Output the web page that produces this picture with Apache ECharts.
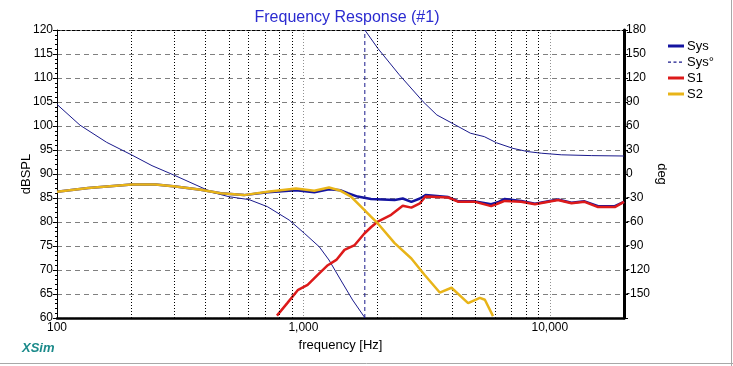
<!DOCTYPE html>
<html><head><meta charset="utf-8">
<script src="https://cdn.jsdelivr.net/npm/echarts@6/dist/echarts.min.js"></script>
<style>html,body{margin:0;padding:0;background:#fff}#c{width:733px;height:366px}</style>
</head><body><div id="c"></div>
<script>
// ---- data ----
var freqSys = [100,134,201,251,303,383,461,574,715,933,1107,1270,1417,1513,1660,1880,2345,2530,2742,2970,3130,3870,4260,4980,5780,6200,6560,7650,8700,10800,12240,13840,15700,18350,20000];
var splSys  = [86.3,87.1,87.8,87.8,87.4,86.7,86.0,85.6,86.2,86.6,86.2,86.8,86.6,86.0,85.3,84.8,84.6,84.9,84.2,84.9,85.6,85.2,84.3,84.3,83.7,84.2,84.8,84.4,83.8,84.7,84.0,84.3,83.3,83.3,84.2];

var freqS1 = [781,860,948,1040,1143,1256,1360,1468,1615,1768,1880,2005,2270,2530,2742,2970,3130,3870,4260,4980,5780,6200,6560,7650,8700,10800,12240,13840,15700,18350,20000];
var splS1  = [60.5,63.1,65.8,66.9,69.0,71.0,72.1,74.2,75.2,77.6,78.9,80.1,81.5,83.4,83.0,83.9,85.3,85.1,84.2,84.2,83.3,83.9,84.4,84.2,83.7,84.6,83.9,84.2,83.1,83.1,84.2];

var freqS2 = [100,134,201,251,303,383,461,574,715,933,1107,1270,1417,1560,1713,1880,2005,2345,2742,3100,3575,3990,4660,5200,5450,5880];
var splS2  = [86.3,87.1,87.8,87.8,87.4,86.7,86.0,85.6,86.3,87.0,86.5,87.2,86.5,85.3,83.2,81.1,79.7,75.6,72.4,69.0,65.3,66.3,63.1,64.2,63.8,60.4];

var freqPhaseA = [100,124,159,201,243,298,400,426,499,602,715,875,1008,1160,1270,1417,1584,1760,1775];
var phaseA     = [87,61,39.6,23.8,10.4,-1.3,-19,-22.9,-28.4,-32,-40.9,-57.5,-74,-91,-107.5,-132.5,-157.5,-178,-180];
var freqPhaseB = [1775,1790,2005,2450,3060,3480,4070,4760,5420,6080,7090,8140,9230,11130,14730,20000];
var phaseB     = [180,178.7,157,124,90.4,73.8,62.5,51,46.7,39,32,28,26,24,23,22.5];
var wrapFreq = 1775;

var gridFreqs = [200,300,400,500,600,700,800,900,2000,3000,4000,5000,6000,7000,8000,9000];
var dbTicks = {min:60, max:120, step:5};
var degTicks = {min:-180, max:180, step:30};

function zip(a,b){return a.map(function(v,i){return [v,b[i]];});}
var phaseData = zip(freqPhaseA,phaseA).concat([[wrapFreq,'-']]).concat(zip(freqPhaseB,phaseB));

var FONT = 'Liberation Sans, Arial, sans-serif';
var ICON_SOLID = 'path://M0,0 M16,14 M0,5.5 L16,5.5 L16,8.5 L0,8.5 Z';
var ICON_DASH = 'path://M0,0 M16,14 M0,6.5h3v1.2h-3z M5.5,6.5h3v1.2h-3z M11,6.5h3v1.2h-3z';
var chart = echarts.init(document.getElementById('c'));
chart.setOption({
  animation:false,
  backgroundColor:'#fff',
  title:{text:'Frequency Response (#1)', left:342, textAlign:'center', top:5,
    textStyle:{color:'#2b2bd0', fontSize:16, fontWeight:'normal', fontFamily:FONT}},
  legend:{orient:'vertical', left:668, top:39, itemWidth:16, itemHeight:14, itemGap:2, padding:0,
    textStyle:{fontSize:13, fontFamily:FONT, color:'#000', padding:[0,0,0,-2]},
    data:[{name:'Sys', icon:ICON_SOLID},{name:'Sys°', icon:ICON_DASH},{name:'S1', icon:ICON_SOLID},{name:'S2', icon:ICON_SOLID}]},
  grid:{left:57, right:109, top:30, bottom:48},
  xAxis:[{type:'log', logBase:10, min:100, max:20000,
    name:'frequency [Hz]', nameLocation:'middle', nameGap:21,
    nameTextStyle:{fontSize:13, fontFamily:FONT, color:'#000'},
    axisLine:{show:true, onZero:false, lineStyle:{color:'#000', width:2.5, type:[5,1]}},
    axisTick:{show:false},
    axisLabel:{fontSize:12, fontFamily:FONT, color:'#000', margin:4, showMaxLabel:false,
      formatter:function(v){return Math.round(v).toLocaleString('en-US');}},
    splitLine:{show:true, lineStyle:{color:'#909090', type:[1,2], width:1}},
    minorTick:{show:false}, minorSplitLine:{show:false}},
   {type:'log', logBase:10, min:100, max:20000, position:'top',
    axisLine:{show:true, onZero:false, lineStyle:{color:'#000', width:1, type:[3,2]}},
    axisTick:{show:false}, axisLabel:{show:false}, splitLine:{show:false}}],
  yAxis:[{type:'value', min:dbTicks.min, max:dbTicks.max, interval:dbTicks.step,
    name:'dBSPL', nameLocation:'middle', nameGap:24, nameRotate:90, nameMoveOverlap:false,
    nameTextStyle:{fontSize:13, fontFamily:FONT, color:'#000'},
    axisLine:{show:true, onZero:false, lineStyle:{color:'#000', width:1}},
    axisTick:{show:true, length:4, lineStyle:{color:'#000'}},
    minorTick:{show:true, splitNumber:5, length:2, lineStyle:{color:'#000'}},
    axisLabel:{fontSize:12, fontFamily:FONT, color:'#000', margin:4},
    splitLine:{show:true, lineStyle:{color:'#808080', type:[5,4], width:1}}},
   {type:'value', min:degTicks.min, max:degTicks.max, interval:degTicks.step, position:'right',
    name:'deg', nameLocation:'middle', nameGap:31, nameRotate:-90, nameMoveOverlap:false,
    nameTextStyle:{fontSize:13, fontFamily:FONT, color:'#000'},
    axisLine:{show:true, onZero:false, lineStyle:{color:'#000', width:3}},
    axisTick:{show:true, length:4, lineStyle:{color:'#000'}},
    axisLabel:{fontSize:12, fontFamily:FONT, color:'#000', margin:2,
      formatter:function(v){return v===degTicks.min ? '' : String(v);}},
    splitLine:{show:false}}],
  series:[
    {name:'Sys', type:'line', symbol:'none', z:3, data:zip(freqSys,splSys),
      lineStyle:{color:'#1414a0', width:2.5}, itemStyle:{color:'#1414a0'},
      markLine:{silent:true, symbol:'none', label:{show:false},
        lineStyle:{color:'#000', type:[1,2], width:1},
        data:gridFreqs.map(function(f){return {xAxis:f};})}},
    {name:'Sys°', type:'line', symbol:'none', z:3, yAxisIndex:1, data:phaseData, connectNulls:false,
      lineStyle:{color:'#1a1a8c', width:1}, itemStyle:{color:'#1a1a8c'}},
    {name:'Sys°', type:'line', symbol:'none', z:3, yAxisIndex:1,
      data:[[wrapFreq,degTicks.min],[wrapFreq,degTicks.max]],
      lineStyle:{color:'#1a1a8c', width:1, type:[4,3]}, itemStyle:{color:'#1a1a8c'}},
    {name:'S1', type:'line', symbol:'none', z:4, data:zip(freqS1,splS1),
      lineStyle:{color:'#dd1a1a', width:2.5}, itemStyle:{color:'#dd1a1a'}},
    {name:'S2', type:'line', symbol:'none', z:5, data:zip(freqS2,splS2),
      lineStyle:{color:'#e8b418', width:2.5}, itemStyle:{color:'#e8b418'}}
  ],
  graphic:[
    {type:'text', left:22, top:342, style:{text:'XSim', fill:'#1b8a8a', font:'italic bold 13px '+FONT}},
    {type:'line', shape:{x1:0,y1:363.5,x2:733,y2:363.5}, style:{stroke:'#a8a8a8', lineWidth:1}},
    {type:'line', shape:{x1:731.5,y1:0,x2:731.5,y2:366}, style:{stroke:'#a8a8a8', lineWidth:1}}
  ]
});
</script></body></html>
